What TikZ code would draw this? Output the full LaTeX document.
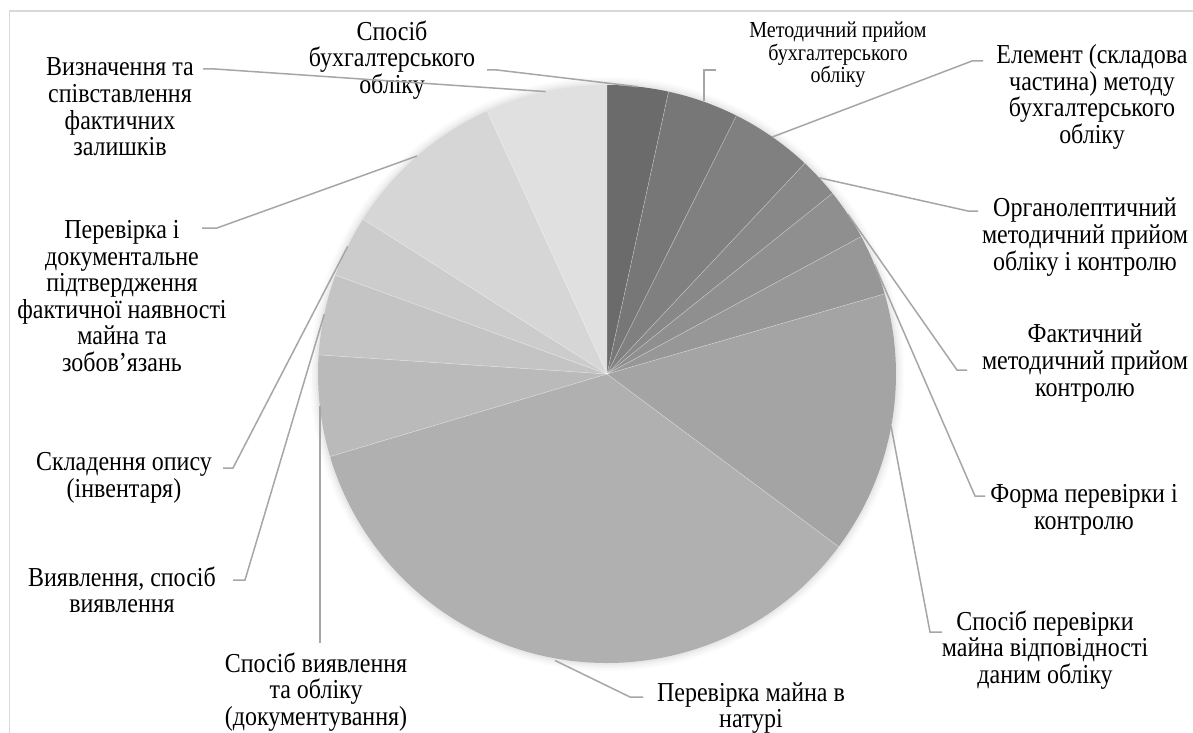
\documentclass[tikz,border=0pt]{standalone}
\usepackage{fontspec}
\setmainfont{Liberation Serif}
\newfontfamily\lblfont[FakeStretch=0.875]{Liberation Serif}
\definecolor{s1}{HTML}{6B6B6B}
\definecolor{s2}{HTML}{777777}
\definecolor{s3}{HTML}{808080}
\definecolor{s4}{HTML}{888888}
\definecolor{s5}{HTML}{8F8F8F}
\definecolor{s6}{HTML}{979797}
\definecolor{s7}{HTML}{A4A4A4}
\definecolor{s8}{HTML}{B0B0B0}
\definecolor{s9}{HTML}{BABABA}
\definecolor{s10}{HTML}{C4C4C4}
\definecolor{s11}{HTML}{CCCCCC}
\definecolor{s12}{HTML}{D6D6D6}
\definecolor{s13}{HTML}{E0E0E0}
\definecolor{leadc}{HTML}{A6A6A6}
\definecolor{framec}{HTML}{D9D9D9}
\begin{document}
\begin{tikzpicture}[x=1bp,y=-1bp,
  lbl/.style={font=\lblfont\fontsize{27.5}{26.7}\selectfont, align=center, inner sep=0pt, text=black},
  lbls/.style={font=\lblfont\fontsize{23}{22.7}\selectfont, align=center, inner sep=0pt, text=black},
  lead/.style={draw=leadc, line width=1.5bp},
  edge/.style={draw=white, draw opacity=0.45, line width=0.5bp}]
\useasboundingbox (0,0) rectangle (1193,733);
\fill[white] (0,0) rectangle (1193,733);
\draw[framec, line width=1.5bp] (9.5,740) -- (9.5,11) -- (1200,11);
\coordinate (O) at (607,374);
% shadow
\foreach \r/\o in {297/0.015, 295/0.02, 293/0.025, 291/0.03}
  \fill[black, opacity=\o] (O) circle[radius=\r];
% slices
\foreach \a/\b/\c in {-90/-77.7/s1, -77.7/-63.4/s2, -63.4/-46.8/s3, -46.8/-38.7/s4,
  -38.7/-28.4/s5, -28.4/-16.1/s6, -16.1/36.7/s7, 36.7/163.4/s8, 163.4/183.8/s9,
  183.8/200/s10, 200/212.4/s11, 212.4/245.5/s12, 245.5/270/s13}
  \fill[\c] (O) -- ++(\a:289) arc[start angle=\a, end angle=\b, radius=289] -- cycle;
\foreach \a in {-77.7,-63.4,-46.8,-38.7,-28.4,-16.1,36.7,163.4,183.8,200,212.4,245.5}
  \draw[edge] (O) -- ++(\a:289);
% labels
\node[lbl] (n1) at (392,60) {Спосіб\\бухгалтерського\\обліку};
\node[lbls] (n2) at (838,55) {Методичний прийом\\бухгалтерського\\обліку};
\node[lbl] (n3) at (1092,97) {Елемент (складова\\частина) методу\\бухгалтерського\\обліку};
\node[lbl] (n4) at (1085,237) {Органолептичний\\методичний прийом\\обліку і контролю};
\node[lbl] (n5) at (1085,363) {Фактичний\\методичний прийом\\контролю};
\node[lbl] (n6) at (1084,510) {Форма перевірки і\\контролю};
\node[lbl] (n7) at (1045,650) {Спосіб перевірки\\майна відповідності\\даним обліку};
\node[lbl] (n8) at (751,708) {Перевірка майна в\\натурі};
\node[lbl] (n9) at (316,692) {Спосіб виявлення\\та обліку\\(документування)};
\node[lbl] (n10) at (122,590) {Виявлення, спосіб\\виявлення};
\node[lbl] (n11) at (124,478) {Складення опису\\(інвентаря)};
\node[lbl] (n12) at (122,296) {Перевірка і\\документальне\\підтвердження\\фактичної наявності\\майна та\\зобов’язань};
\node[lbl] (n13) at (120,107) {Визначення та\\співставлення\\фактичних\\залишків};
% leader coordinates
\coordinate (a1) at (487,70);  \coordinate (t1) at (497,70);  \coordinate (p1) at (638,86.7);
\coordinate (a2) at (716,70);  \coordinate (t2) at (704,70);  \coordinate (p2) at (704,101.5);
\coordinate (a3) at (983,61);  \coordinate (t3) at (972,61);  \coordinate (p3) at (772.3,137);
\coordinate (a4) at (978,211); \coordinate (t4) at (968,211); \coordinate (p4) at (819.2,177.8);
\coordinate (a5) at (967,370); \coordinate (t5) at (957,370); \coordinate (p5) at (848,214.3);
\coordinate (a6) at (985,496); \coordinate (t6) at (975,496); \coordinate (p6) at (874.5,264.6);
\coordinate (a7) at (942,632); \coordinate (t7) at (930,632); \coordinate (p7) at (891,426);
\coordinate (a8) at (643,697); \coordinate (t8) at (630,697); \coordinate (p8) at (555,660.5);
\coordinate (t9) at (320,643); \coordinate (p9) at (320,406);
\coordinate (a10) at (233,580); \coordinate (t10) at (245,580); \coordinate (p10) at (324.2,314.4);
\coordinate (a11) at (223,468); \coordinate (t11) at (233,468); \coordinate (p11) at (347.7,246.4);
\coordinate (a12) at (202,228); \coordinate (t12) at (217,228); \coordinate (p12) at (417,156);
\coordinate (a13) at (203,69);  \coordinate (t13) at (215,69);  \coordinate (p13) at (545.7,91.6);
\foreach \i in {1,2,3,4,5,6,7,8,10,11,12,13}
  \draw[lead] (a\i) -- (t\i) -- (p\i);
\draw[lead] (t9) -- (p9);
\end{tikzpicture}
\end{document}
